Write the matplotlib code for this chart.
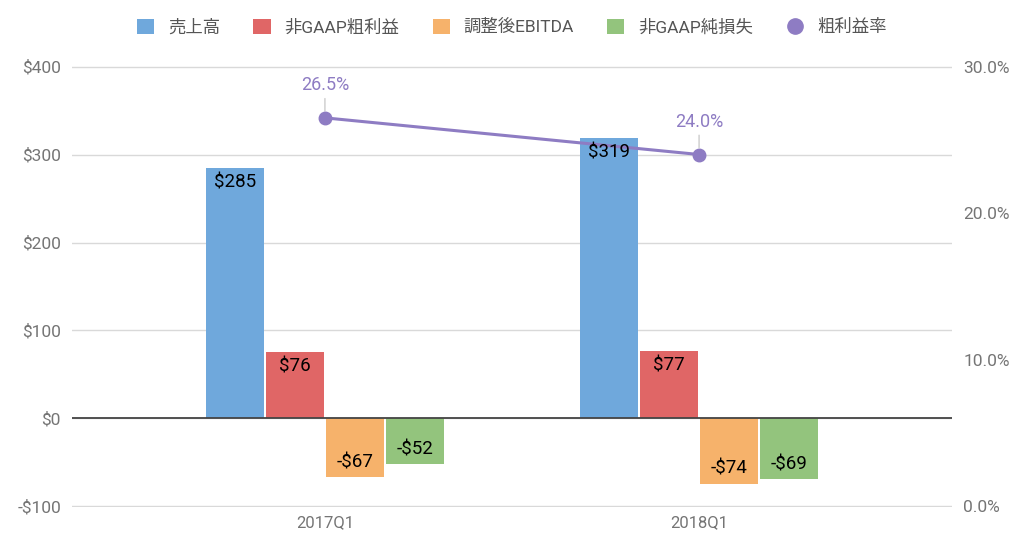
import matplotlib
matplotlib.use("Agg")
import matplotlib.pyplot as plt
from matplotlib.lines import Line2D
from matplotlib.patches import Patch
import numpy as np

plt.rcParams['font.family'] = ['Roboto', 'Noto Sans CJK JP', 'DejaVu Sans']

categories = ['2017Q1', '2018Q1']
series_names = ['売上高', '非GAAP粗利益', '調整後EBITDA', '非GAAP純損失']
revenue = [285, 319]
gross_profit = [76, 77]
ebitda = [-67, -74]
net_loss = [-52, -69]
margin_name = '粗利益率'
gross_margin = [26.5, 24.0]
left_ticks = [-100, 0, 100, 200, 300, 400]
right_ticks = [0, 10, 20, 30]

colors = ['#6fa8dc', '#e06666', '#f6b26b', '#93c47d']
line_color = '#8e7cc3'
tick_color = '#757575'

fig = plt.figure(figsize=(10.24, 5.51), dpi=100)
ax = fig.add_axes([72/1024, 1-507/551, 880/1024, (507-66)/551])
ax2 = ax.twinx()

x = np.arange(len(categories))
offsets = [-0.241, -0.080, 0.080, 0.241]
width = 0.155
all_series = [revenue, gross_profit, ebitda, net_loss]
for vals, off, col in zip(all_series, offsets, colors):
    bars = ax.bar(x + off, vals, width=width, color=col, zorder=3)
    for b, v in zip(bars, vals):
        lbl = f'${v}' if v >= 0 else f'-${-v}'
        y = v - 17 if v >= 0 else v + 17
        ax2.text(b.get_x() + b.get_width()/2, y, lbl, ha='center', va='center',
                 fontsize=13.5, color='black', zorder=8, transform=ax.transData)

pad = 0.6
ax.set_xlim(-0.676, 1.676)
ax.set_ylim(-100 - pad, 400 + pad)
ax.set_yticks(left_ticks)
ax.set_yticklabels([f'${t}' if t >= 0 else f'-${-t}' for t in left_ticks])
ax.grid(axis='y', color='#d9d9d9', linewidth=1, zorder=0)
ax.axhline(0, color='#444444', linewidth=1.3, zorder=4)
ax.set_xticks(x)
ax.set_xticklabels(categories)
for a in (ax, ax2):
    for s in a.spines.values():
        s.set_visible(False)
ax.tick_params(axis='both', length=0, colors=tick_color, labelsize=12.5, pad=8)
ax.tick_params(axis='x', pad=6, labelsize=12)

ax2.set_ylim(0 - pad * 30 / 500, 30 + pad * 30 / 500)
ax2.set_yticks(right_ticks)
ax2.set_yticklabels([f'{t:.1f}%' for t in right_ticks])
ax2.tick_params(axis='y', length=0, colors=tick_color, labelsize=12.5, pad=8)
ax2.plot(x, gross_margin, color=line_color, linewidth=2.2, marker='o',
         markersize=9, zorder=6)
for xi, m in zip(x, gross_margin):
    ax2.annotate(f'{m:.1f}%', xy=(xi, m), xytext=(xi, m + 1.6),
                 ha='center', va='bottom', fontsize=13, color=line_color,
                 arrowprops=dict(arrowstyle='-', color='#cccccc', lw=1,
                                 shrinkA=1, shrinkB=5))
ax.set_zorder(1)
ax.patch.set_visible(False)
ax2.set_zorder(2)

handles = [Patch(facecolor=c, edgecolor='none') for c in colors]
handles.append(Line2D([], [], color=line_color, marker='o', linestyle='none', markersize=11))
fig.legend(handles, series_names + [margin_name], loc='center', bbox_to_anchor=(0.5, 1-27/551),
           ncol=5, frameon=False, fontsize=12.5, labelcolor='#555555', handlelength=1.0,
           handleheight=1.0, handletextpad=0.8, columnspacing=1.9)

fig.savefig('out.png', dpi=100)
